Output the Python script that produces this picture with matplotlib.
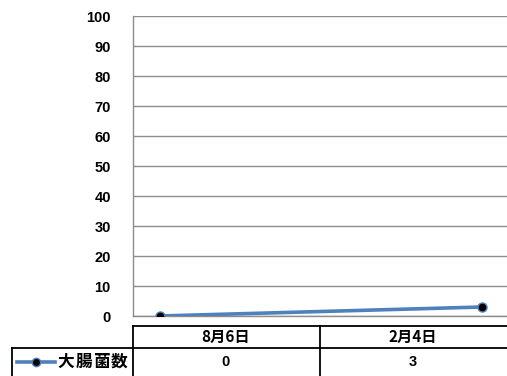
import matplotlib
matplotlib.use("Agg")
import matplotlib.pyplot as plt
from matplotlib.lines import Line2D

categories = ["8月6日", "2月4日"]
series_name = "大腸菌数"
values = [0, 3]
yticks = [0, 10, 20, 30, 40, 50, 60, 70, 80, 90, 100]

W, H = 507, 376
fig = plt.figure(figsize=(W / 100, H / 100), dpi=100)
fig.patch.set_facecolor("white")

cjk = ["Noto Sans CJK JP", "DejaVu Sans"]
num_font = ["Liberation Sans", "DejaVu Sans"]

def fx(px):
    return px / W

def fy(py):
    return 1 - py / H

ax = fig.add_axes([fx(133), fy(316), fx(507) - fx(133), fy(16) - fy(316)])
x = list(range(len(categories)))
ax.plot(x, values, color="#4F81BD", lw=2.6, marker="o", ms=6.5,
        markerfacecolor="black", markeredgecolor="#4F81BD", markeredgewidth=1,
        zorder=3, solid_capstyle="round")
ax.set_xlim(-0.084, 1.078)
ax.set_ylim(0, 100)
ax.set_yticks(yticks)
ax.set_yticklabels([str(t) for t in yticks], fontfamily=num_font,
                   fontweight="bold", fontsize=10.5)
ax.tick_params(axis="y", length=0, pad=16)
ax.set_xticks([])
ax.grid(axis="y", color="#8c8c8c", lw=1)
for s in ["top", "right"]:
    ax.spines[s].set_visible(False)
ax.spines["left"].set_color("#8c8c8c")
ax.spines["bottom"].set_color("#8c8c8c")
ax.spines["left"].set_linewidth(1)
ax.spines["bottom"].set_linewidth(1)

# data table under the plot
def hline(y, x0, x1):
    fig.add_artist(Line2D([fx(x0), fx(x1)], [fy(y), fy(y)], color="black", lw=1.3))

def vline(xp, y0, y1):
    fig.add_artist(Line2D([fx(xp), fx(xp)], [fy(y0), fy(y1)], color="black", lw=1.3))

hline(326, 133, 507)
hline(347.5, 12, 507)
vline(133, 326, 376)
vline(12, 347.5, 376)
vline(320, 326, 376)

col_centers = [226, 413]
for cx, cat, v in zip(col_centers, categories, values):
    fig.text(fx(cx), fy(337), cat, ha="center", va="center",
             fontfamily=cjk, fontweight="bold", fontsize=11)
    fig.text(fx(cx), fy(362), str(v), ha="center", va="center",
             fontfamily=num_font, fontweight="bold", fontsize=10.5)

# legend key
fig.add_artist(Line2D([fx(17), fx(55)], [fy(362), fy(362)], color="#4F81BD", lw=2.6))
fig.add_artist(Line2D([fx(36)], [fy(362)], marker="o", ms=6, markerfacecolor="black",
                      markeredgecolor="#4F81BD", markeredgewidth=1))
for i, ch in enumerate(series_name):
    fig.text(fx(66 + i * 17.7), fy(362), ch, ha="center", va="center",
             fontfamily=cjk, fontweight="bold", fontsize=12)

fig.savefig("out.png", dpi=100)
